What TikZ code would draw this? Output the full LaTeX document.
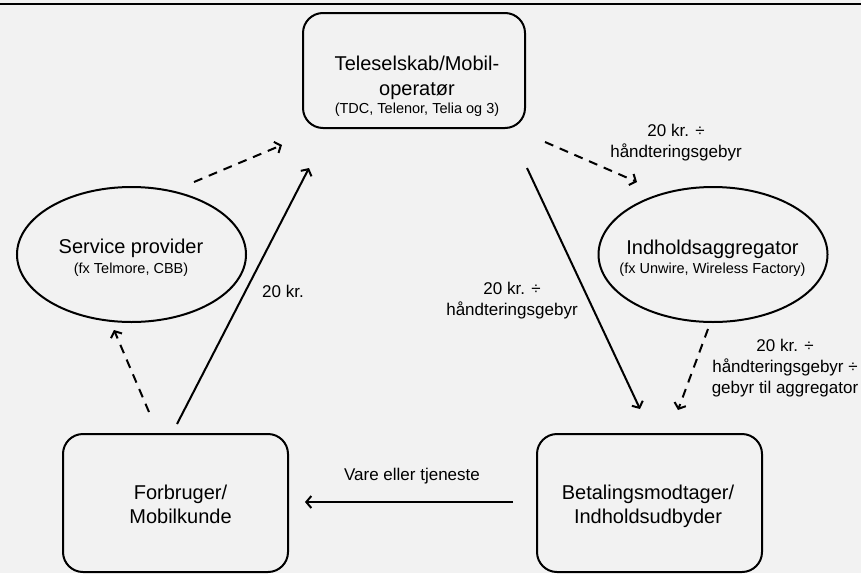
\documentclass[tikz,border=0pt]{standalone}
\usepackage{fontspec}
\setmainfont{Liberation Sans}
\usetikzlibrary{arrows.meta,shapes.geometric}
\definecolor{bg}{RGB}{242,242,242}
\definecolor{ink}{RGB}{0,0,0}

\begin{document}
\begin{tikzpicture}[x=1pt,y=-1pt,
  every node/.style={inner sep=0pt,outer sep=0pt,text=ink},
  party/.style={draw=ink,line width=2pt,rounded corners=20pt,
    minimum width=#1},
  party/.default=225pt,
  oval/.style={draw=ink,line width=2pt,ellipse,minimum width=229pt,
    minimum height=135pt},
  % multi-line texts are placed by the baseline of their last line
  title/.style={align=center,anchor=base,font=\fontsize{20}{25}\selectfont},
  note/.style={align=center,anchor=base,font=\fontsize{17}{21}\selectfont},
  flow/.style={draw=ink,line width=2pt,-{Straight Barb[length=5pt,width=12pt]}},
  dflow/.style={flow,dash pattern=on 9pt off 7pt}]

  % canvas
  \fill[bg] (0,0) rectangle (861,573);
  \useasboundingbox (0,0) rectangle (861,573);
  \draw[ink,line width=2pt] (0,3.5) -- (861,3.5);

  % parties
  \node[party=222pt,minimum height=115pt] (tele) at (414,70.5) {};
  \node[party,minimum height=138pt] (cust) at (175.5,503) {};
  \node[party,minimum height=138pt] (pay) at (649.5,503) {};
  \node[oval] (sp) at (131.5,254.5) {};
  \node[oval] (agg) at (713,254.5) {};

  % party texts
  \node[title] (tele-t) at (417,113)
    {Teleselskab/Mobil-\\operatør\\[-7pt]{\fontsize{14.5}{19}\selectfont (TDC, Telenor, Telia og 3)}};
  \node[title] (sp-t) at (131,273)
    {Service provider\\[-5pt]{\fontsize{14.5}{19}\selectfont (fx Telmore, CBB)}};
  \node[title] (agg-t) at (712.5,273)
    {Indholdsaggregator\\[-6pt]{\fontsize{14.5}{19}\selectfont (fx Unwire, Wireless Factory)}};
  \node[title] (cust-t) at (180.5,523) {Forbruger/\\[-1pt]Mobilkunde};
  \node[title] (pay-t) at (648,523) {Betalingsmodtager/\\[-1pt]Indholdsudbyder};

  % connector end points
  \coordinate (c1) at (177,424);   \coordinate (t1) at (309,168);
  \coordinate (p1) at (513,502);   \coordinate (c2) at (305,502);
  \coordinate (t2) at (527,168);   \coordinate (p2) at (640,409);
  \coordinate (c3) at (149,412);   \coordinate (s1) at (114,330);
  \coordinate (s2) at (194,182);   \coordinate (t3) at (282,145);
  \coordinate (t4) at (545,142);   \coordinate (a1) at (637,182);
  \coordinate (a2) at (708,329);   \coordinate (p3) at (678,410);

  % money and goods
  \draw[flow] (c1) -- (t1);
  \draw[flow] (p1) -- (c2);
  \draw[flow] (t2) -- (p2);
  \draw[dflow] (c3) -- (s1);
  \draw[dflow] (s2) -- (t3);
  \draw[dflow] (t4) -- (a1);
  \draw[dflow] (a2) -- (p3);

  % amounts
  \node[note] (n1) at (283,297) {20 kr.};
  \node[note] (n2) at (512,315) {20 kr. ÷\\håndteringsgebyr};
  \node[note] (n3) at (676,157) {20 kr. ÷\\håndteringsgebyr};
  \node[note] (n4) at (785,393) {20 kr. ÷\\håndteringsgebyr ÷\\gebyr til aggregator};
  \node[note] (n5) at (412,480) {Vare eller tjeneste};
\end{tikzpicture}
\end{document}
